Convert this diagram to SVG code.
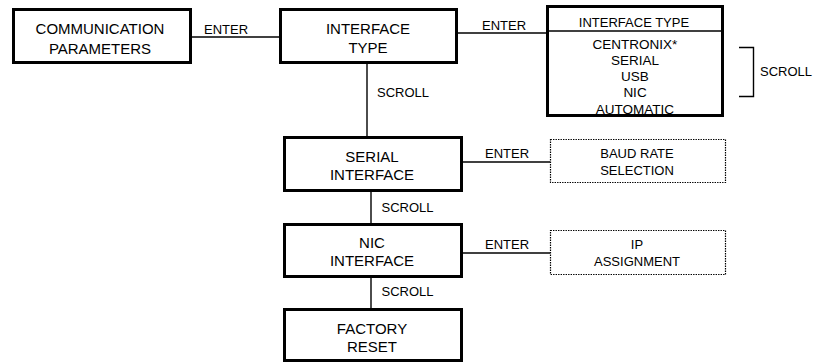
<svg xmlns="http://www.w3.org/2000/svg" width="816" height="363" viewBox="0 0 816 363">
  <style>
    .box { fill: #fff; stroke: #000; stroke-width: 3; }
    .frame { fill: none; stroke: #000; stroke-width: 3; }
    .opt { fill: #fff; stroke: #000; stroke-width: 1.2; stroke-dasharray: 1.4 1.1; }
    .wire { fill: none; stroke: #000; stroke-width: 1.4; }
    .big { font-family: "Liberation Sans", Arial, sans-serif; font-size: 15px; fill: #000; text-anchor: middle; }
    .small { font-family: "Liberation Sans", Arial, sans-serif; font-size: 13px; fill: #000; text-anchor: middle; }
    .item { font-family: "Liberation Sans", Arial, sans-serif; font-size: 13.5px; fill: #000; text-anchor: middle; }
    .lbl { font-family: "Liberation Sans", Arial, sans-serif; font-size: 13px; fill: #000; }
  </style>

  <!-- connectors and their labels -->
  <g id="connectors">
    <line class="wire" x1="192" y1="37" x2="279" y2="37"/>
    <text class="lbl" x="204" y="34">ENTER</text>

    <line class="wire" x1="458" y1="33" x2="546" y2="33"/>
    <text class="lbl" x="482" y="30">ENTER</text>

    <line class="wire" x1="367" y1="64" x2="367" y2="136"/>
    <text class="lbl" x="377" y="97">SCROLL</text>

    <line class="wire" x1="463" y1="162" x2="550" y2="162"/>
    <text class="lbl" x="485" y="157.5">ENTER</text>

    <line class="wire" x1="371" y1="192" x2="371" y2="223"/>
    <text class="lbl" x="381.5" y="212">SCROLL</text>

    <line class="wire" x1="463" y1="253" x2="550" y2="253"/>
    <text class="lbl" x="485" y="249">ENTER</text>

    <line class="wire" x1="371" y1="278" x2="371" y2="308"/>
    <text class="lbl" x="381.5" y="296">SCROLL</text>

    <!-- bracket spanning the scrollable list -->
    <path class="wire" d="M739 47.5 H753.5 V96.5 H739"/>
    <text class="lbl" x="760" y="76">SCROLL</text>
  </g>

  <g id="communication-parameters">
    <rect class="box" x="13.5" y="9.5" width="177" height="53"/>
    <text class="big" x="100" y="34">COMMUNICATION</text>
    <text class="big" x="100" y="53.5">PARAMETERS</text>
  </g>

  <g id="interface-type">
    <rect class="box" x="280.5" y="9.5" width="176" height="53"/>
    <text class="big" x="368" y="34">INTERFACE</text>
    <text class="big" x="368" y="53">TYPE</text>
  </g>

  <g id="interface-type-list">
    <rect x="547.5" y="6.5" width="175" height="109" fill="#fff"/>
    <text class="small" x="634" y="26.5">INTERFACE TYPE</text>
    <line x1="547.5" y1="31" x2="722.5" y2="31" stroke="#000" stroke-width="1.5"/>
    <text class="item" x="635" y="49.3">CENTRONIX*</text>
    <text class="item" x="635" y="65.2">SERIAL</text>
    <text class="item" x="635" y="81.1">USB</text>
    <text class="item" x="635" y="97">NIC</text>
    <text class="item" x="635" y="114.3">AUTOMATIC</text>
    <rect class="frame" x="547.5" y="6.5" width="175" height="109"/>
  </g>

  <g id="serial-interface">
    <rect class="box" x="284.5" y="137.5" width="177" height="53"/>
    <text class="big" x="372" y="162">SERIAL</text>
    <text class="big" x="372" y="180">INTERFACE</text>
  </g>

  <g id="baud-rate-selection">
    <rect class="opt" x="550.5" y="139.5" width="175" height="43"/>
    <text class="small" x="637" y="158.3">BAUD RATE</text>
    <text class="small" x="637" y="175">SELECTION</text>
  </g>

  <g id="nic-interface">
    <rect class="box" x="284.5" y="224.5" width="177" height="52"/>
    <text class="big" x="372" y="248">NIC</text>
    <text class="big" x="372" y="266">INTERFACE</text>
  </g>

  <g id="ip-assignment">
    <rect class="opt" x="550.5" y="230.5" width="175" height="44"/>
    <text class="small" x="637" y="249">IP</text>
    <text class="small" x="637" y="266">ASSIGNMENT</text>
  </g>

  <g id="factory-reset">
    <rect class="box" x="284.5" y="309.5" width="177" height="51"/>
    <text class="big" x="372" y="333.5">FACTORY</text>
    <text class="big" x="372" y="351.5">RESET</text>
  </g>
</svg>
